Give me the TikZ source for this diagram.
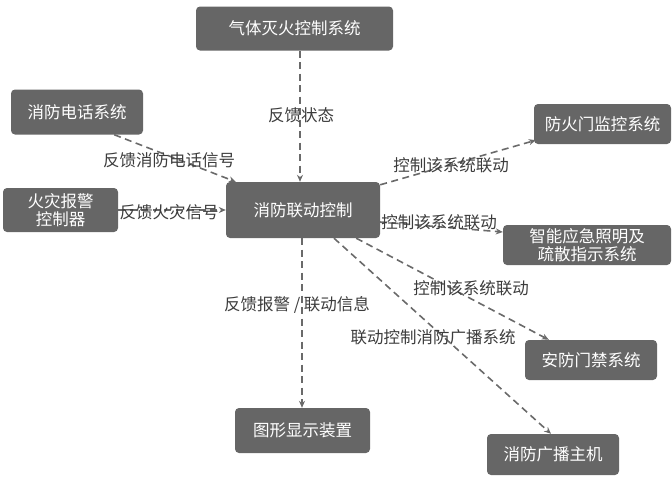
\documentclass[tikz,border=0pt]{standalone}
\usepackage{fontspec}
\setmainfont{Noto Sans CJK SC}
\usetikzlibrary{arrows.meta,calc}
\definecolor{boxgray}{HTML}{666666}
\definecolor{linegray}{HTML}{6A6A6A}
\definecolor{labelgray}{HTML}{3C3C3C}
\begin{document}
\begin{tikzpicture}[x=1pt,y=-1pt,
  sysbox/.style={draw=none,fill=boxgray,rounded corners=4pt,text=white,
    font=\fontsize{16.5}{18.5}\selectfont,align=center,inner sep=0pt},
  lbl/.style={text=labelgray,font=\fontsize{16.5}{18.5}\selectfont,inner sep=0pt},
  flow/.style={draw=linegray,line width=1.6pt,dash pattern=on 7pt off 4.5pt,
    -{Stealth[length=7pt,width=6pt]}},
  vflow/.style={flow,line width=1.1pt}]
\useasboundingbox (0,0) rectangle (672,477);
\node[sysbox,minimum width=197,minimum height=44] (gas) at (294.5,28.5) {气体灭火控制系统};
\node[sysbox,minimum width=132,minimum height=45] (dianhua) at (77,112) {消防电话系统};
\node[sysbox,minimum width=137,minimum height=40] (fanghuo) at (602.5,124) {防火门监控系统};
\node[sysbox,minimum width=115,minimum height=44] (fire) at (60.5,210) {火灾报警\\控制器};
\node[sysbox,minimum width=154,minimum height=56] (lianli) at (303,210) {消防联动控制};
\node[sysbox,minimum width=168,minimum height=40] (zhineng) at (587,245) {智能应急照明及\\疏散指示系统};
\node[sysbox,minimum width=132,minimum height=40] (anfang) at (591,360) {安防门禁系统};
\node[sysbox,minimum width=135,minimum height=45] (tuxing) at (302.5,430.5) {图形显示装置};
\node[sysbox,minimum width=132,minimum height=41] (guangbo) at (553,454.5) {消防广播主机};

\draw[vflow] ([xshift=-3pt]lianli.north |- gas.south) -- ([xshift=-3pt]lianli.north);
\draw[flow] ([xshift=-29pt]dianhua.south east) -- ([xshift=10pt]lianli.north west);
\draw[flow] (fire.east) -- (lianli.west);
\draw[flow] ([yshift=-3pt]lianli.north east) -- ([xshift=2pt,yshift=4pt]fanghuo.south west);
\draw[flow] ([yshift=-12pt]lianli.east) -- ([yshift=13pt]zhineng.west);
\draw[flow] ([xshift=-24pt]lianli.south east) -- ([xshift=24pt]anfang.north west);
\draw[flow] ([xshift=31pt]lianli.south) -- ([xshift=-2pt]guangbo.north);
\draw[vflow] ([xshift=-1pt]lianli.south) -- ([xshift=-1pt]lianli.south |- tuxing.north);

\node[lbl] (l1) at (301,115) {反馈状态};
\node[lbl] (l2) at (169,160) {反馈消防电话信号};
\node[lbl] (l3) at (169,212) {反馈火灾信号};
\node[lbl] (l4) at (451,165) {控制该系统联动};
\node[lbl] (l5) at (439,222) {控制该系统联动};
\node[lbl] (l6) at (471,288) {控制该系统联动};
\node[lbl] (l7) at (433,337) {联动控制消防广播系统};
\node[lbl] (l8) at (297,305) {反馈报警 / 联动信息};
\end{tikzpicture}
\end{document}
